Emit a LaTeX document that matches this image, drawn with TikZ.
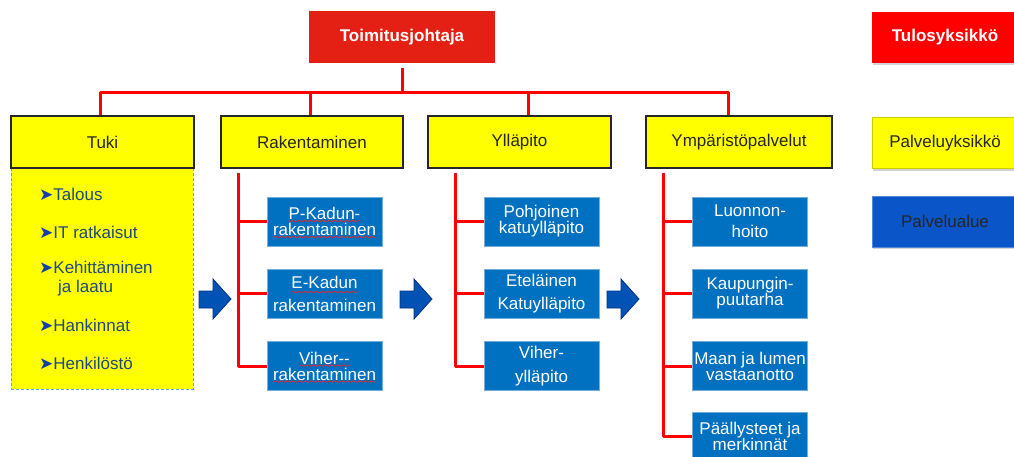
\documentclass[tikz,border=0pt]{standalone}
\usepackage{fontspec}
\setmainfont{Liberation Sans}
\newfontfamily\dejavu{DejaVu Sans}
\usetikzlibrary{shadows,decorations.pathmorphing}
\definecolor{bossred}{RGB}{228,32,20}
\definecolor{legred}{RGB}{255,0,0}
\definecolor{lineRed}{RGB}{255,0,0}
\definecolor{unityellow}{RGB}{255,255,0}
\definecolor{areablue}{RGB}{0,112,192}
\definecolor{legblue}{RGB}{10,85,200}
\definecolor{arrowblue}{RGB}{0,82,180}
\definecolor{arrowdark}{RGB}{0,50,130}
\definecolor{listblue}{RGB}{31,73,125}
\definecolor{bulletblue}{RGB}{20,60,170}
\definecolor{dashblue}{RGB}{80,170,235}
\definecolor{spellred}{RGB}{230,40,40}
\newcommand\bul{{\dejavu\fontsize{17}{17}\selectfont\color{bulletblue}➤}}
\begin{document}
\begin{tikzpicture}[x=1pt,y=-1pt,
  font=\fontsize{17}{16}\selectfont,
  bossbox/.style={rectangle, fill=bossred, minimum width=186, minimum height=52, inner sep=0, text=white, font=\fontsize{17}{20}\selectfont\bfseries},
  unitbox/.style={rectangle, fill=unityellow, draw=black!85, line width=1.1pt, minimum height=52, inner sep=0, text=black!85},
  areabox/.style={rectangle, fill=areablue, draw=areablue!55!white, line width=0.8pt, minimum width=115, minimum height=49, inner sep=0, text=white, align=center},
  legendbox/.style={rectangle, minimum width=146, minimum height=51, inner sep=0, drop shadow={shadow xshift=1pt,shadow yshift=-2pt,opacity=0.35}},
  orgline/.style={draw=lineRed, line width=3pt, line join=round},
  blockarrow/.style={fill=arrowblue, draw=arrowdark, line width=0.8pt, line join=miter},
  listitem/.style={anchor=west, inner sep=0, text=listblue, align=left},
  spell/.style={draw=spellred, line width=0.6pt, decorate, decoration={snake, amplitude=0.7pt, segment length=3pt}}
]
\useasboundingbox (0,0) rectangle (1014,456);
\clip (0,0) rectangle (1014,456);

% top
\node[bossbox] (boss) at (402,37) {Toimitusjohtaja};

% tuki list area
\node[rectangle, fill=unityellow, draw=dashblue, line width=0.8pt, dash pattern=on 3pt off 2pt, minimum width=182, minimum height=221, inner sep=0] (tukilist) at (102,278.5) {};

% units
\node[unitbox, minimum width=183] (tuki) at (102.5,142) {Tuki};
\node[unitbox, minimum width=182] (rak) at (312,142) {Rakentaminen};
\node[unitbox, minimum width=183] (yll) at (519.5,142) {Ylläpito};
\node[unitbox, minimum width=186] (ymp) at (739,142) {Ympäristöpalvelut};

% list items
\node[listitem] (l1) at (39,194) {\bul Talous};
\node[listitem] (l2) at (39,232) {\bul IT ratkaisut};
\node[listitem, font=\fontsize{17}{19}\selectfont] (l3) at (39,278.5) {\bul Kehittäminen\\\hphantom{\bul} ja laatu};
\node[listitem] (l4) at (39,325) {\bul Hankinnat};
\node[listitem] (l5) at (39,363) {\bul Henkilöstö};

% top tree
\coordinate (bL) at (100,92);
\coordinate (bR) at (728,92);
\draw[orgline] ([yshift=-5pt]boss.south) -- (boss.south |- bL);
\draw[orgline] (tuki.north -| bL) -- (bL) -- (bR) -- (ymp.north -| bR);
\draw[orgline] ([xshift=-2pt]rak.north) -- ([xshift=-2pt]rak.north |- bL);
\draw[orgline] ([xshift=8.5pt]yll.north) -- ([xshift=8.5pt]yll.north |- bL);

% Rakentaminen column
\node[areabox] (r1) at (324.5,221.5) {P-Kadun-\\rakentaminen};
\node[areabox] (r2) at (324.5,293.5) {E-Kadun\\[7pt]rakentaminen};
\node[areabox] (r3) at (324.5,366) {Viher-{}-\\rakentaminen};
\coordinate (rtop) at (238,173);
\draw[orgline] (rtop) |- (r3.west);
\draw[orgline] (rtop |- r1.west) -- (r1.west);
\draw[orgline] (rtop |- r2.west) -- (r2.west);

% spell-check underlines
\draw[spell] ([xshift=-36pt,yshift=0.5pt]r1.center) -- ++(72,0);
\draw[spell] ([xshift=-51.5pt,yshift=-15.5pt]r1.center) -- ++(103,0);
\draw[spell] ([xshift=-33pt,yshift=1.5pt]r2.center) -- ++(66,0);
\draw[spell] ([xshift=-25.5pt,yshift=0.5pt]r3.center) -- ++(51,0);
\draw[spell] ([xshift=-51.5pt,yshift=-15.5pt]r3.center) -- ++(103,0);

% Ylläpito column
\node[areabox] (y1) at (541.5,221.5) {Pohjoinen\\katuylläpito};
\node[areabox] (y2) at (541.5,293.5) {Eteläinen\\[7pt]Katuylläpito};
\node[areabox] (y3) at (541.5,366) {Viher-\\[8pt]ylläpito};
\coordinate (ytop) at (455,173);
\draw[orgline] (ytop) |- (y3.west);
\draw[orgline] (ytop |- y1.west) -- (y1.west);
\draw[orgline] (ytop |- y2.west) -- (y2.west);

% Ympäristöpalvelut column
\node[areabox] (e1) at (750,221.5) {Luonnon-\\[5pt]hoito};
\node[areabox] (e2) at (750,293.5) {Kaupungin-\\puutarha};
\node[areabox] (e3) at (750,366) {Maan ja lumen\\vastaanotto};
\node[areabox] (e4) at (750,436.5) {Päällysteet ja\\merkinnät};
\coordinate (etop) at (663,173);
\draw[orgline] (etop) |- (e4.west);
\draw[orgline] (etop |- e1.west) -- (e1.west);
\draw[orgline] (etop |- e2.west) -- (e2.west);
\draw[orgline] (etop |- e3.west) -- (e3.west);

% block arrows
\foreach \xo in {199,400,607}{
  \draw[blockarrow] (\xo,291) -- (\xo+14,291) -- (\xo+14,279) -- (\xo+32,299) -- (\xo+14,319) -- (\xo+14,308) -- (\xo,308) -- cycle;
}

% legend
\node[legendbox, fill=legred, text=white, font=\fontsize{17}{20}\selectfont\bfseries] (lg1) at (945,37.5) {Tulosyksikkö};
\node[legendbox, fill=unityellow, draw=unityellow!80!black, line width=0.6pt, text=black!85] (lg2) at (945,143) {Palveluyksikkö};
\node[legendbox, fill=legblue, draw=legblue!70!white, line width=0.6pt, text=black!85] (lg3) at (945,221.5) {Palvelualue};
\end{tikzpicture}
\end{document}
